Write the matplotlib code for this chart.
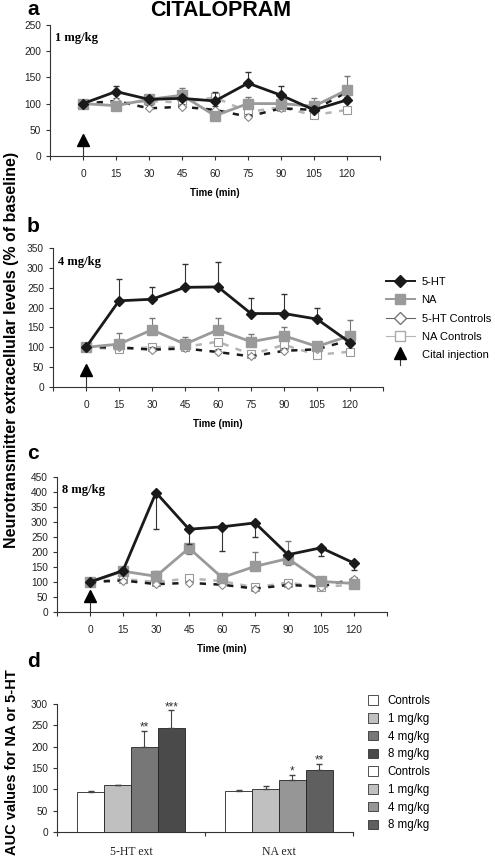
import matplotlib
matplotlib.use("Agg")
import matplotlib.pyplot as plt
from matplotlib.lines import Line2D
from matplotlib.patches import Patch
from matplotlib.legend_handler import HandlerBase
import numpy as np

# ---------------- data ----------------
times = [0, 15, 30, 45, 60, 75, 90, 105, 120]

# Panel a: 1 mg/kg
a_5ht = [100, 123, 108, 110, 105, 139, 116, 88, 107]
a_5ht_err = [0, 11, 4, 6, 17, 21, 17, 8, 6]
a_na = [100, 96, 108, 116, 77, 100, 100, 95, 126]
a_na_err = [0, 5, 4, 13, 4, 12, 5, 16, 27]
a_5htc = [100, 105, 91, 94, 88, 75, 91, 88, 122]
a_nac = [100, 100, 105, 102, 112, 84, 93, 78, 88]

# Panel b: 4 mg/kg
b_5ht = [100, 217, 221, 251, 252, 185, 185, 171, 112]
b_5ht_err = [0, 54, 30, 59, 64, 38, 48, 29, 6]
b_na = [100, 108, 144, 108, 144, 114, 129, 102, 129]
b_na_err = [0, 29, 31, 17, 31, 19, 21, 6, 40]
b_5htc = [100, 100, 94, 97, 88, 77, 91, 95, 118]
b_nac = [100, 95, 100, 101, 114, 82, 106, 81, 89]

# Panel c: 8 mg/kg
c_5ht = [100, 138, 398, 276, 284, 297, 191, 214, 163]
c_5ht_err_lo = [0, 0, 120, 48, 82, 47, 0, 28, 24]
c_5ht_err_up = [0, 8, 0, 0, 0, 0, 0, 0, 0]
c_na = [100, 136, 119, 213, 115, 152, 178, 102, 95]
c_na_err_lo = [0, 0, 0, 21, 0, 0, 22, 0, 0]
c_na_err_up = [0, 0, 19, 0, 0, 48, 59, 0, 0]
c_5htc = [100, 105, 93, 97, 91, 78, 90, 85, 110]
c_nac = [100, 110, 100, 112, 103, 82, 98, 83, 92]

ctrl_err = [0, 6, 6, 6, 8, 6, 6, 6, 6]
injection_level = [30, 43, 55]

# Panel d: AUC
groups = ["5-HT ext", "NA ext"]
doses = ["Controls", "1 mg/kg", "4 mg/kg", "8 mg/kg"]
auc_5ht = [94, 110, 200, 243]
auc_5ht_err = [2, 1, 37, 42]
auc_na = [96, 101, 122, 145]
auc_na_err = [3, 7, 12, 15]
stars_5ht = ["", "", "**", "***"]
stars_na = ["", "", "*", "**"]

# ---------------- style ----------------
SANS = ["Liberation Sans", "DejaVu Sans"]
SERIF = ["Liberation Serif", "DejaVu Serif"]
plt.rcParams["font.family"] = SANS
BLACK = "#1a1a1a"
GRAY = "#9a9a9a"
LGRAY = "#b5b5b5"
cols_5ht = ["#ffffff", "#c0c0c0", "#777777", "#4a4a4a"]
cols_na = ["#ffffff", "#c0c0c0", "#969696", "#5f5f5f"]

W, H = 495, 860
fig = plt.figure(figsize=(W / 100, H / 100), dpi=100)


def px_axes(left, right, top, bottom):
    return fig.add_axes([left / W, 1 - bottom / H, (right - left) / W, (bottom - top) / H])


def style_axis(ax):
    ax.spines["top"].set_visible(False)
    ax.spines["right"].set_visible(False)
    for s in ("left", "bottom"):
        ax.spines[s].set_linewidth(0.8)
        ax.spines[s].set_color("#333333")
    ax.tick_params(axis="y", direction="out", length=3, width=0.8, pad=3.5,
                   labelsize=7.3, colors="#333333", labelcolor="#222222")
    ax.tick_params(axis="x", direction="out", length=3, width=0.8, pad=6.5,
                   labelsize=7.3, colors="#333333", labelcolor="#222222")


def time_panel(ax, ymax, s5, s5_err, na, na_err, c5, cna, inj, dose):
    style_axis(ax)
    # controls (behind)
    ax.errorbar(times, cna, yerr=[np.zeros(9), ctrl_err], color=LGRAY, lw=1.8,
                dashes=(2.5, 3), marker="s", ms=5.5, mfc="white", mec="#999999",
                mew=0.8, ecolor="#666666", elinewidth=0.6, capsize=2, zorder=2)
    ax.errorbar(times, c5, yerr=[np.zeros(9), ctrl_err], color=BLACK, lw=1.8,
                dashes=(2.5, 3), marker="D", ms=4.5, mfc="white", mec="#888888",
                mew=0.8, ecolor="#444444", elinewidth=0.6, capsize=2, zorder=3)
    ax.errorbar(times, na, yerr=na_err, color=GRAY, lw=2.0, marker="s", ms=7,
                mfc=GRAY, mec=GRAY, ecolor="#777777", elinewidth=0.8,
                capsize=2.5, zorder=4)
    ax.errorbar(times, s5, yerr=s5_err, color=BLACK, lw=2.0, marker="D", ms=5.5,
                mfc=BLACK, mec=BLACK, ecolor="#333333", elinewidth=0.8,
                capsize=2.5, zorder=5)
    # injection arrow
    ax.plot([0, 0], [0, inj], color="#333333", lw=0.8, zorder=6)
    ax.plot([0], [inj], marker="^", ms=9, color="black", zorder=7, clip_on=False)
    ax.set_xlim(-15, 135)
    ax.set_ylim(0, ymax)
    ax.set_yticks(np.arange(0, ymax + 1, 50))
    ax.set_xticks(times)
    ax.set_xticks([-15, 135], minor=True)
    ax.tick_params(axis="x", which="minor", length=3, width=0.8, colors="#333333")
    ax.set_xlabel("Time (min)", fontsize=7, fontweight="bold", labelpad=6)
    ax.text(0.015, 0.90, dose, transform=ax.transAxes, fontsize=9,
            fontweight="bold", family=SERIF, va="center", ha="left")


ax_a = px_axes(50, 380, 25, 156)
time_panel(ax_a, 250, a_5ht, [np.zeros(9), a_5ht_err], a_na,
           [np.zeros(9), a_na_err], a_5htc, a_nac, injection_level[0], "1 mg/kg")

ax_b = px_axes(53, 383, 248, 387)
time_panel(ax_b, 350, b_5ht, [np.zeros(9), b_5ht_err], b_na,
           [np.zeros(9), b_na_err], b_5htc, b_nac, injection_level[1], "4 mg/kg")

ax_c = px_axes(57, 387, 477, 612)
time_panel(ax_c, 450, c_5ht, [c_5ht_err_lo, c_5ht_err_up], c_na,
           [c_na_err_lo, c_na_err_up], c_5htc, c_nac, injection_level[2], "8 mg/kg")

# ---------------- panel d ----------------
ax_d = px_axes(57, 353, 704, 832)
style_axis(ax_d)
bw = 0.182
x = np.arange(len(groups))
for i in range(len(doses)):
    off = (i - 1.5) * bw
    vals = [auc_5ht[i], auc_na[i]]
    errs = [auc_5ht_err[i], auc_na_err[i]]
    cols = [cols_5ht[i], cols_na[i]]
    ax_d.bar(x + off, vals, width=bw, color=cols, edgecolor="#222222",
             linewidth=0.6, zorder=3)
    ax_d.errorbar(x + off, vals, yerr=[np.zeros(2), errs], fmt="none",
                  ecolor="#444444", elinewidth=0.8, capsize=2.5, zorder=4)
    for gi, st in enumerate([stars_5ht[i], stars_na[i]]):
        if st:
            ax_d.text(x[gi] + off, vals[gi] + errs[gi] - 6, st, ha="center",
                      va="bottom", fontsize=8.5, color="#333333")
ax_d.set_xlim(-0.5, 1.5)
ax_d.set_ylim(0, 300)
ax_d.set_yticks(np.arange(0, 301, 50))
ax_d.set_xticks(x)
ax_d.set_xticklabels(groups, family=SERIF, fontsize=8.5)
ax_d.tick_params(axis="x", which="major", length=0, pad=10)
ax_d.set_xticks([-0.5, 0.5, 1.5], minor=True)
ax_d.tick_params(axis="x", which="minor", length=3, width=0.8, colors="#333333")

# ---------------- legends ----------------
class ArrowHandler(HandlerBase):
    def create_artists(self, legend, orig_handle, xdescent, ydescent, width,
                       height, fontsize, trans):
        cx = width / 2 - xdescent
        line = Line2D([cx, cx], [-ydescent - height * 0.9, -ydescent + height * 0.5],
                      color="#333333", lw=0.8, transform=trans)
        tri = Line2D([cx], [-ydescent + height * 0.75], marker="^", ms=9,
                     color="black", lw=0, transform=trans)
        return [line, tri]


h5 = Line2D([], [], color=BLACK, lw=1.4, marker="D", ms=6.5, mfc=BLACK, mec=BLACK)
hna = Line2D([], [], color=GRAY, lw=1.4, marker="s", ms=7.5, mfc=GRAY, mec=GRAY)
h5c = Line2D([], [], color="#666666", lw=0.8, marker="D", ms=6.5, mfc="white", mec="#777777")
hnac = Line2D([], [], color=LGRAY, lw=0.8, marker="s", ms=6.5, mfc="white", mec="#aaaaaa")
harr = object()
fig.legend([h5, hna, h5c, hnac, harr],
           ["5-HT", "NA", "5-HT Controls", "NA Controls", "Cital injection"],
           handler_map={harr: ArrowHandler()}, loc="upper left",
           bbox_to_anchor=(386 / W, 1 - 277 / H), frameon=False, fontsize=8,
           handlelength=2.6, handletextpad=0.6, labelspacing=0.75, borderpad=0,
           borderaxespad=0)

hd1 = [Patch(facecolor=c, edgecolor="#333333", linewidth=0.6) for c in cols_5ht]
hd2 = [Patch(facecolor=c, edgecolor="#333333", linewidth=0.6) for c in cols_na]
fig.legend(hd1 + hd2, doses + doses, loc="upper left",
           bbox_to_anchor=(368 / W, 1 - 695 / H), frameon=False, fontsize=8.3,
           handlelength=0.9, handleheight=0.9, handletextpad=0.8,
           labelspacing=0.5, borderpad=0, borderaxespad=0)

# ---------------- texts ----------------
fig.text(221 / W, 1 - 0 / H, "CITALOPRAM", ha="center", va="top", fontsize=15.5,
         fontweight="bold")
for letter, ytop in zip("abcd", [0, 217, 444, 652]):
    fig.text(27 / W, 1 - ytop / H, letter, ha="left", va="top", fontsize=15,
             fontweight="bold")
fig.text(12 / W, 1 - 350 / H, "Neurotransmitter extracellular levels (% of baseline)",
         rotation=90, ha="center", va="center", fontsize=11.5, fontweight="bold")
fig.text(12 / W, 1 - 762 / H, "AUC values for NA or 5-HT", rotation=90,
         ha="center", va="center", fontsize=10.5, fontweight="bold")

fig.savefig("out.png", dpi=100)
